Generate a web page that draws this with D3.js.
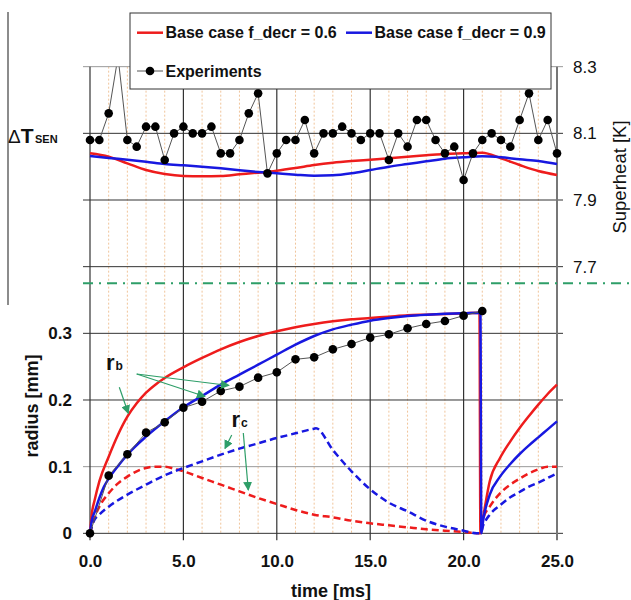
<!DOCTYPE html>
<html><head><meta charset="utf-8">
<script src="https://cdn.jsdelivr.net/npm/d3@7"></script>
<style>body{margin:0;background:#fff} svg{font-family:"Liberation Sans",Arial,sans-serif}</style>
</head><body><svg id="c" width="631" height="600"></svg>
<script>
// ---------- DATA ----------
const xTicks = [0, 5, 10, 15, 20, 25];
const xMinorTicks = [1,2,3,4,6,7,8,9,11,12,13,14,16,17,18,19,21,22,23,24];
const upperTicks = [8.3, 8.1, 7.9, 7.7];
const lowerTicks = [0, 0.1, 0.2, 0.3];
const lowerTickLabels = ["0", "0.1", "0.2", "0.3"];

// Upper panel: superheat [K]
const expUpperTime = [0,0.5,1,1.5,2,2.5,3,3.5,4,4.5,5,5.5,6,6.5,7,7.5,8,8.5,9,9.5,10,10.5,11,11.5,12,12.5,13,13.5,14,14.5,15,15.5,16,16.5,17,17.5,18,18.5,19,19.5,20,20.5,21,21.5,22,22.5,23,23.5,24,24.5,25];
const expUpperVal = [8.08,8.08,8.16,8.33,8.08,8.06,8.12,8.12,8.02,8.10,8.12,8.10,8.10,8.12,8.04,8.04,8.08,8.16,8.22,7.98,8.04,8.08,8.08,8.14,8.04,8.10,8.10,8.12,8.10,8.08,8.10,8.10,8.02,8.10,8.06,8.14,8.14,8.08,8.04,8.06,7.96,8.04,8.08,8.10,8.08,8.06,8.14,8.22,8.08,8.14,8.04];
const modelUpperTime = [0,1,2,3,4,5,6,7,8,9,10,11,12,13,14,15,16,17,18,19,20,21,22,23,24,25];
const redUpperVal  = [8.04,8.03,8.01,7.99,7.978,7.972,7.971,7.972,7.977,7.982,7.988,7.996,8.005,8.012,8.017,8.021,8.025,8.03,8.034,8.038,8.04,8.042,8.025,8.005,7.987,7.975];
const blueUpperVal = [8.032,8.026,8.021,8.015,8.008,8.004,8.0,7.995,7.989,7.984,7.98,7.976,7.973,7.974,7.98,7.99,8.0,8.008,8.016,8.024,8.028,8.031,8.028,8.022,8.017,8.008];

// Lower panel: radius [mm]
const expLowerTime = [0,1,2,3,4,5,6,7,8,9,10,11,12,13,14,15,16,17,18,19,20,21];
const expLowerVal  = [0,0.0865,0.1185,0.151,0.1665,0.1885,0.1975,0.2135,0.22,0.2335,0.2415,0.261,0.264,0.276,0.284,0.2935,0.2985,0.3075,0.314,0.3185,0.3265,0.3335];

const rbRedTime = [0,0.1,0.25,0.5,1,1.5,2,2.5,3,3.5,4,5,6,7,8,9,10,11,12,13,14,15,16,17,18,19,20,20.85,20.9,21.05,21.4,21.95,22.5,23,23.5,24,24.5,25];
const rbRedVal  = [0,0.03,0.05,0.078,0.115,0.148,0.175,0.195,0.211,0.223,0.233,0.249,0.263,0.276,0.287,0.296,0.303,0.309,0.314,0.318,0.321,0.323,0.325,0.327,0.328,0.329,0.33,0.331,0.002,0.025,0.078,0.113,0.138,0.158,0.176,0.193,0.209,0.223];

const rbBlueTime = [0,0.1,0.25,0.5,0.75,1,1.5,2,3,4,5,6,7,8,9,10,11,12,13,14,15,16,17,18,19,20,20.9,20.95,21.05,21.4,21.95,22.5,23,23.5,24,24.5,25];
const rbBlueVal  = [0,0.02,0.032,0.053,0.07,0.082,0.101,0.118,0.145,0.168,0.189,0.206,0.223,0.238,0.253,0.268,0.283,0.296,0.306,0.313,0.319,0.323,0.326,0.328,0.3295,0.33,0.331,0.0,0.02,0.058,0.085,0.104,0.119,0.132,0.144,0.156,0.168];

const rcRedTime = [0,0.2,0.5,1,1.5,2,2.5,3,3.5,4,4.5,5,6,7,8,9,10,11,12,13,14,15,16,17,18,19,20,20.9,21.05,21.4,21.95,22.5,23,23.5,24,24.5,25];
const rcRedVal  = [0,0.02,0.04,0.06,0.075,0.085,0.093,0.098,0.1,0.1,0.097,0.093,0.083,0.073,0.063,0.053,0.044,0.035,0.028,0.024,0.019,0.015,0.012,0.009,0.006,0.004,0.002,0,0.022,0.04,0.06,0.073,0.082,0.09,0.096,0.1,0.1];

const rcBlueTime = [0,0.2,0.5,1,2,3,4,5,6,7,8,9,10,11,12,12.1,13,14,15,16,17,18,19,20,20.7,20.9,21.05,21.4,21.95,22.5,23,23.5,24,24.5,25];
const rcBlueVal  = [0,0.018,0.028,0.04,0.058,0.073,0.087,0.098,0.108,0.118,0.127,0.135,0.143,0.15,0.157,0.1575,0.125,0.093,0.066,0.046,0.033,0.019,0.01,0.004,0,0,0.012,0.028,0.042,0.054,0.062,0.07,0.076,0.083,0.09];

const legendLabels = ["Base case f_decr = 0.6", "Base case f_decr = 0.9", "Experiments"];

// ---------- DRAW ----------
const RED = "#ee1c1c", BLUE = "#1818e0", GREEN = "#2e9e68";
const svg = d3.select("#c");
const x = d3.scaleLinear().domain([0, 25]).range([90, 557]);
const yUp = d3.scaleLinear().domain([7.7, 8.3]).range([266.67, 66.67]);
const yLo = d3.scaleLinear().domain([0, 0.3]).range([533.33, 333.33]);
const pTop = 66.67, pBot = 533.33;

const defs = svg.append("defs");
defs.append("clipPath").attr("id","clip")
  .append("rect").attr("x",85).attr("y",pTop).attr("width",480).attr("height",pBot-pTop+5);
defs.append("marker").attr("id","arr").attr("viewBox","0 0 10 10")
  .attr("refX",9).attr("refY",5).attr("markerWidth",9).attr("markerHeight",9)
  .attr("markerUnits","userSpaceOnUse").attr("orient","auto")
  .append("path").attr("d","M0,0 L10,5 L0,10 Z").attr("fill",GREEN);

// left bracket line
svg.append("line").attr("x1",8).attr("x2",8).attr("y1",12).attr("y2",305)
  .attr("stroke","#666").attr("stroke-width",1.5);

// minor vertical grid
svg.append("g").selectAll("line").data(xMinorTicks).join("line")
  .attr("x1",d=>x(d)).attr("x2",d=>x(d)).attr("y1",pTop).attr("y2",pBot)
  .attr("stroke","#f0c49a").attr("stroke-width",1).attr("stroke-dasharray","2,2");

// horizontal grid
const hg = svg.append("g");
hg.selectAll("line.u").data(upperTicks).join("line").attr("class","u")
  .attr("x1",83).attr("x2",563).attr("y1",d=>yUp(d)).attr("y2",d=>yUp(d))
  .attr("stroke",d=>d===8.3?"#999":"#333").attr("stroke-width",1);
hg.selectAll("line.l").data(lowerTicks).join("line").attr("class","l")
  .attr("x1",83).attr("x2",563).attr("y1",d=>yLo(d)).attr("y2",d=>yLo(d))
  .attr("stroke",d=>d===0.1?"#999":"#333").attr("stroke-width",1);

// major vertical grid
svg.append("g").selectAll("line").data(xTicks).join("line")
  .attr("x1",d=>x(d)).attr("x2",d=>x(d)).attr("y1",pTop).attr("y2",pBot+7)
  .attr("stroke",d=>d===25?"#777":"#333").attr("stroke-width",d=>d===25?2:1.2);

// green separator dash-dot
svg.append("line").attr("x1",83).attr("x2",631).attr("y1",283.3).attr("y2",283.3)
  .attr("stroke",GREEN).attr("stroke-width",2).attr("stroke-dasharray","10,6,2,6");

// axes tick labels
const bx = svg.append("g").attr("transform",`translate(0,${pBot})`)
  .call(d3.axisBottom(x).tickValues(xTicks).tickFormat(d3.format(".1f")).tickSize(0).tickPadding(22));
const lx = svg.append("g").attr("transform","translate(90,0)")
  .call(d3.axisLeft(yLo).tickValues(lowerTicks).tickFormat((d,i)=>lowerTickLabels[i]).tickSize(0).tickPadding(18));
const rx = svg.append("g").attr("transform","translate(557,0)")
  .call(d3.axisRight(yUp).tickValues(upperTicks).tickFormat(d3.format(".1f")).tickSize(0).tickPadding(16));
[bx,lx,rx].forEach(g=>{g.select(".domain").remove(); g.selectAll("text").attr("fill","#111").style("font-size","17px").style("font-family",'"Liberation Sans",Arial,sans-serif');});
bx.selectAll("text").style("font-weight","bold");
lx.selectAll("text").style("font-weight","bold");

const plot = svg.append("g").attr("clip-path","url(#clip)");

function series(tArr, vArr, yS){ return tArr.map((t,i)=>[x(t), yS(vArr[i])]); }
const line = d3.line();
const smooth = d3.line().curve(d3.curveMonotoneX);

// lower panel model lines
plot.append("path").attr("d",smooth(series(rcRedTime,rcRedVal,yLo))).attr("fill","none")
  .attr("stroke",RED).attr("stroke-width",2.5).attr("stroke-dasharray","7,4");
plot.append("path").attr("d",smooth(series(rcBlueTime,rcBlueVal,yLo))).attr("fill","none")
  .attr("stroke",BLUE).attr("stroke-width",2.5).attr("stroke-dasharray","7,4");
plot.append("path").attr("d",smooth(series(rbRedTime,rbRedVal,yLo))).attr("fill","none")
  .attr("stroke",RED).attr("stroke-width",2.5);
plot.append("path").attr("d",smooth(series(rbBlueTime,rbBlueVal,yLo))).attr("fill","none")
  .attr("stroke",BLUE).attr("stroke-width",2.5);
// lower experiments
plot.append("path").attr("d",line(series(expLowerTime,expLowerVal,yLo))).attr("fill","none")
  .attr("stroke","#555").attr("stroke-width",1);
plot.append("g").selectAll("circle").data(series(expLowerTime,expLowerVal,yLo)).join("circle")
  .attr("cx",d=>d[0]).attr("cy",d=>d[1]).attr("r",4.3).attr("fill","#000");

// upper panel model lines
plot.append("path").attr("d",smooth(series(modelUpperTime,redUpperVal,yUp))).attr("fill","none")
  .attr("stroke",RED).attr("stroke-width",2.5);
plot.append("path").attr("d",smooth(series(modelUpperTime,blueUpperVal,yUp))).attr("fill","none")
  .attr("stroke",BLUE).attr("stroke-width",2.5);
plot.append("path").attr("d",line(series(expUpperTime,expUpperVal,yUp))).attr("fill","none")
  .attr("stroke","#555").attr("stroke-width",1);
plot.append("g").selectAll("circle").data(series(expUpperTime,expUpperVal,yUp)).join("circle")
  .attr("cx",d=>d[0]).attr("cy",d=>d[1]).attr("r",4.3).attr("fill","#000");

// legend
const lg = svg.append("g");
lg.append("rect").attr("x",130).attr("y",13).attr("width",421).attr("height",76)
  .attr("fill","#fff").attr("stroke","#333").attr("stroke-width",1);
const legItems = [
  {lbl:legendLabels[0], c:RED, x:137, y:32.7, dot:false},
  {lbl:legendLabels[1], c:BLUE, x:346, y:32.7, dot:false},
  {lbl:legendLabels[2], c:"#555", x:137, y:71, dot:true}
];
legItems.forEach(it=>{
  lg.append("line").attr("x1",it.x).attr("x2",it.x+26).attr("y1",it.y).attr("y2",it.y)
    .attr("stroke",it.c).attr("stroke-width",it.dot?1:2.5);
  if(it.dot) lg.append("circle").attr("cx",it.x+13).attr("cy",it.y).attr("r",4.3).attr("fill","#000");
  lg.append("text").attr("x",it.x+28.5).attr("y",it.y+5.5).text(it.lbl)
    .style("font-size","16px").style("font-weight","bold").attr("fill","#111");
});

// annotations
const ann = svg.append("g");
function arrow(x1,y1,x2,y2){
  ann.append("line").attr("x1",x1).attr("y1",y1).attr("x2",x2).attr("y2",y2)
    .attr("stroke",GREEN).attr("stroke-width",1.2).attr("marker-end","url(#arr)");
}
arrow(119.3,387.3,128.3,413.3);
arrow(136.7,374,229,385.5);
arrow(136.7,374,205,396.5);
arrow(231.7,435,225,448.5);
arrow(243.3,433,248.3,490);
const rb = ann.append("text").attr("x",106).attr("y",369.5).attr("fill","#111").style("font-weight","bold");
rb.append("tspan").text("r").style("font-size","22px");
rb.append("tspan").text("b").style("font-size","12px").attr("dx",1);
const rc = ann.append("text").attr("x",231.5).attr("y",426.5).attr("fill","#111").style("font-weight","bold");
rc.append("tspan").text("r").style("font-size","22px");
rc.append("tspan").text("c").style("font-size","12px").attr("dx",1);

// axis titles
svg.append("text").attr("transform","translate(38,406) rotate(-90)").attr("text-anchor","middle")
  .style("font-size","18px").style("font-weight","bold").attr("fill","#111").text("radius [mm]");
svg.append("text").attr("transform","translate(626,177) rotate(-90)").attr("text-anchor","middle")
  .style("font-size","18.5px").attr("fill","#111").text("Superheat [K]");
svg.append("text").attr("x",331).attr("y",597).attr("text-anchor","middle")
  .style("font-size","18px").style("font-weight","bold").attr("fill","#111").text("time [ms]");
const dt = svg.append("text").attr("x",8).attr("y",142.5).attr("fill","#111").style("font-weight","bold");
dt.append("tspan").text("\u0394").style("font-size","19px").style("font-weight","normal");
dt.append("tspan").text("T").style("font-size","21px");
dt.append("tspan").text("SEN").style("font-size","11px").attr("dx",1.5);
</script></body></html>
